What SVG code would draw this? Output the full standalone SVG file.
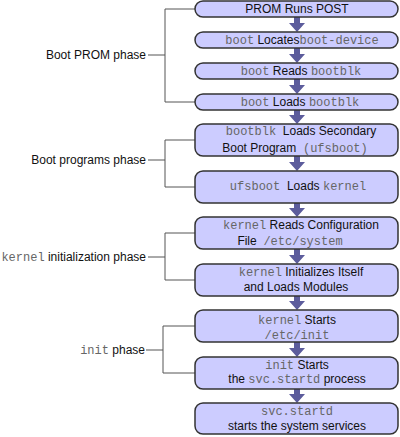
<svg xmlns="http://www.w3.org/2000/svg" width="400" height="437" viewBox="0 0 400 437">
<style>
.box{fill:#ccccff;stroke:#333;stroke-width:1.5}
.t{font-family:"Liberation Sans",Arial,sans-serif;font-size:12px;fill:#111}
.m{font-family:"Liberation Mono","Courier New",monospace;font-size:12px;fill:#666}
.br{fill:none;stroke:#555;stroke-width:1}
.ar{fill:#5c5c9c}
</style>
<rect width="400" height="437" fill="#fff"/>
<g id="connectors">
<polygon class="ar" points="294,17 300,17 300,23 305,23 297,32 289,23 294,23"/>
<polygon class="ar" points="294,48 300,48 300,54 305,54 297,63 289,54 294,54"/>
<polygon class="ar" points="294,79 300,79 300,85 305,85 297,94 289,85 294,85"/>
<polygon class="ar" points="294,110 300,110 300,115 305,115 297,124 289,115 294,115"/>
<polygon class="ar" points="294,156 300,156 300,162 305,162 297,171 289,162 294,162"/>
<polygon class="ar" points="294,203 300,203 300,208 305,208 297,217 289,208 294,208"/>
<polygon class="ar" points="294,249 300,249 300,255 305,255 297,264 289,255 294,255"/>
<polygon class="ar" points="294,296 300,296 300,301 305,301 297,310 289,301 294,301"/>
<polygon class="ar" points="294,342 300,342 300,348 305,348 297,357 289,348 294,348"/>
<polygon class="ar" points="294,389 300,389 300,394 305,394 297,403 289,394 294,394"/>
<path class="br" d="M195,9H165V102H195M148,55H165"/>
<path class="br" d="M195,140H165V187H195M148,160H165"/>
<path class="br" d="M195,233H165V280H195M148,257H165"/>
<path class="br" d="M195,326H163V373H195M146,350H163"/>
</g>
<g id="phase-prom"><text class="t" x="146" y="59" text-anchor="end">Boot PROM phase</text></g>
<g id="phase-programs"><text class="t" x="146" y="164" text-anchor="end">Boot programs phase</text></g>
<g id="phase-kernel"><text x="146" y="261" text-anchor="end"><tspan class="m">kernel</tspan><tspan class="t"> initialization phase</tspan></text></g>
<g id="phase-init"><text x="145" y="354" text-anchor="end"><tspan class="m">init</tspan><tspan class="t"> phase</tspan></text></g>
<g id="n1"><rect class="box" x="195" y="1" width="203" height="16" rx="8"/><text class="t" x="297" y="13" text-anchor="middle">PROM Runs POST</text></g>
<g id="n2"><rect class="box" x="195" y="32" width="203" height="16" rx="8"/><text x="302" y="44" text-anchor="middle"><tspan class="m">boot</tspan><tspan class="t"> Locates</tspan><tspan class="m">boot-device</tspan></text></g>
<g id="n3"><rect class="box" x="195" y="63" width="203" height="16" rx="8"/><text x="301" y="75" text-anchor="middle"><tspan class="m">boot</tspan><tspan class="t"> Reads </tspan><tspan class="m">bootblk</tspan></text></g>
<g id="n4"><rect class="box" x="195" y="94" width="203" height="16" rx="8"/><text x="300" y="106" text-anchor="middle"><tspan class="m">boot</tspan><tspan class="t"> Loads </tspan><tspan class="m">bootblk</tspan></text></g>
<g id="n5"><rect class="box" x="195" y="124" width="203" height="32" rx="8"/><text xml:space="preserve" x="301" y="135" text-anchor="middle"><tspan class="m">bootblk</tspan><tspan class="t">  Loads Secondary</tspan></text><text xml:space="preserve" x="295" y="152" text-anchor="middle"><tspan class="t">Boot Program  </tspan><tspan class="m">(ufsboot)</tspan></text></g>
<g id="n6"><rect class="box" x="195" y="171" width="203" height="32" rx="8"/><text xml:space="preserve" x="298" y="190" text-anchor="middle"><tspan class="m">ufsboot</tspan><tspan class="t">  Loads </tspan><tspan class="m">kernel</tspan></text></g>
<g id="n7"><rect class="box" x="195" y="217" width="203" height="32" rx="8"/><text x="301" y="229" text-anchor="middle"><tspan class="m">kernel</tspan><tspan class="t"> Reads Configuration</tspan></text><text xml:space="preserve" x="290" y="245" text-anchor="middle"><tspan class="t">File  </tspan><tspan class="m">/etc/system</tspan></text></g>
<g id="n8"><rect class="box" x="195" y="264" width="203" height="32" rx="8"/><text x="301" y="276" text-anchor="middle"><tspan class="m">kernel</tspan><tspan class="t"> Initializes Itself</tspan></text><text class="t" x="296" y="291" text-anchor="middle">and Loads Modules</text></g>
<g id="n9"><rect class="box" x="195" y="310" width="203" height="32" rx="8"/><text x="297" y="324" text-anchor="middle"><tspan class="m">kernel</tspan><tspan class="t"> Starts</tspan></text><text class="m" x="297" y="339" text-anchor="middle">/etc/init</text></g>
<g id="n10"><rect class="box" x="195" y="357" width="203" height="32" rx="8"/><text x="297" y="369" text-anchor="middle"><tspan class="m">init</tspan><tspan class="t"> Starts</tspan></text><text x="297" y="383" text-anchor="middle"><tspan class="t">the </tspan><tspan class="m">svc.startd</tspan><tspan class="t"> process</tspan></text></g>
<g id="n11"><rect class="box" x="195" y="403" width="203" height="31" rx="8"/><text class="m" x="297" y="415" text-anchor="middle">svc.startd</text><text class="t" x="297" y="430" text-anchor="middle">starts the system services</text></g>
</svg>
